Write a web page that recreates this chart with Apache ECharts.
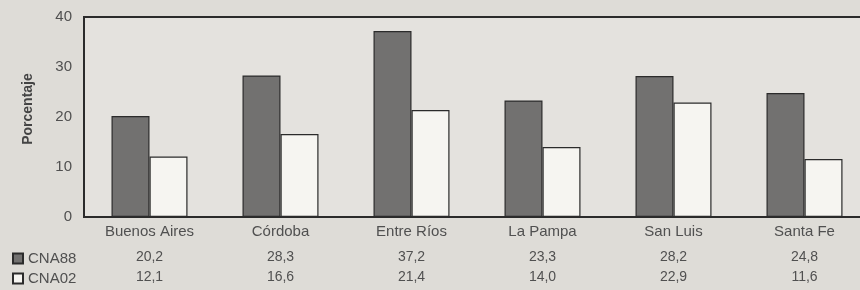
<!DOCTYPE html>
<html>
<head>
<meta charset="utf-8">
<script src="https://cdn.jsdelivr.net/npm/echarts@6/dist/echarts.min.js"></script>
<style>
  html, body { margin: 0; padding: 0; background: #dedcd7; overflow: hidden; }
  #chart { width: 890px; height: 290px; }
</style>
</head>
<body>
<div id="chart"></div>
<script>
const provincias = ['Buenos Aires', 'Córdoba', 'Entre Ríos', 'La Pampa', 'San Luis', 'Santa Fe']
const cna88 = [20.2, 28.3, 37.2, 23.3, 28.2, 24.8]
const cna02 = [12.1, 16.6, 21.4, 14.0, 22.9, 11.6]
const yTicks = [0, 10, 20, 30, 40]

const fmt = (v) => v.toFixed(1).replace('.', ',')
const font = 'Liberation Sans, Arial, sans-serif'
const txt = '#505050'

let myChart = echarts.init(document.getElementById('chart'))

// one legend per table row, so each sits in front of its own values
const legendRow = (name, top) => ({
  left: 7,
  top: top,
  itemWidth: 10,
  itemHeight: 10,
  icon: 'rect',
  textStyle: { fontSize: 15, color: txt },
  data: [name],
})

myChart.setOption({
  backgroundColor: '#dedcd7',
  animation: false,
  textStyle: { fontFamily: font },
  legend: [legendRow('CNA88', 246), legendRow('CNA02', 266)],
  grid: {
    left: 84,
    top: 17,
    width: 786,
    height: 200,
    show: true,
    borderColor: '#2b2b2b',
    borderWidth: 2,
    backgroundColor: '#e4e2de',
  },
  xAxis: [
    {
      type: 'category',
      data: provincias,
      axisLine: { lineStyle: { color: '#2b2b2b', width: 2 } },
      axisTick: { show: false },
      axisLabel: { color: txt, fontSize: 15, margin: 7 },
    },
    {
      type: 'category',
      position: 'bottom',
      offset: 25,
      data: cna88.map(fmt),
      axisLine: { show: false },
      axisTick: { show: false },
      axisLabel: { color: txt, fontSize: 14, margin: 8 },
    },
    {
      type: 'category',
      position: 'bottom',
      offset: 45,
      data: cna02.map(fmt),
      axisLine: { show: false },
      axisTick: { show: false },
      axisLabel: { color: txt, fontSize: 14, margin: 8 },
    },
  ],
  yAxis: {
    type: 'value',
    min: yTicks[0],
    max: yTicks[yTicks.length - 1],
    interval: 10,
    name: 'Porcentaje',
    nameLocation: 'middle',
    nameGap: 49,
    nameTextStyle: { fontSize: 14, fontWeight: 'bold', color: '#444', padding: [0, 0, 0, 16] },
    axisLine: { show: true, lineStyle: { color: '#2b2b2b', width: 2 } },
    axisTick: { show: false },
    splitLine: { show: false },
    axisLabel: { color: txt, fontSize: 15, margin: 12 },
  },
  series: [
    {
      name: 'CNA88',
      type: 'bar',
      data: cna88,
      barWidth: 38,
      barGap: '0%',
      itemStyle: { color: '#727170', borderColor: '#2b2b2b', borderWidth: 1.2 },
    },
    {
      name: 'CNA02',
      type: 'bar',
      data: cna02,
      barWidth: 38,
      itemStyle: { color: '#f6f5f1', borderColor: '#2b2b2b', borderWidth: 1.2 },
    },
  ],
})
</script>
</body>
</html>
